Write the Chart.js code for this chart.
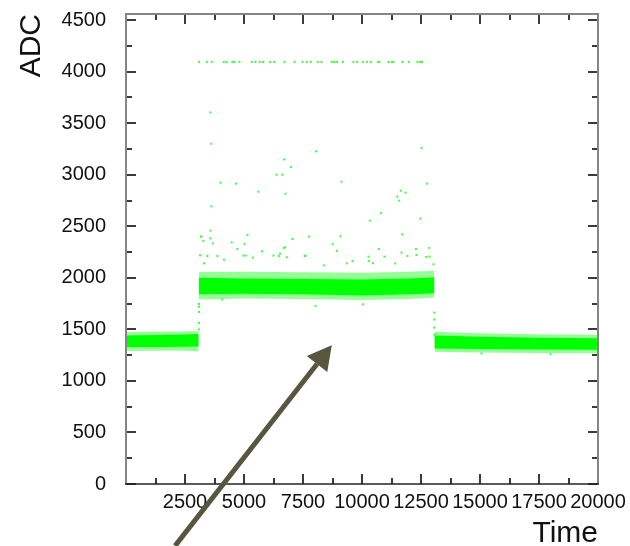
<!DOCTYPE html>
<html>
<head>
<meta charset="utf-8">
<script src="https://cdn.jsdelivr.net/npm/chart.js@4.4.1/dist/chart.umd.min.js"></script>
<style>
  html, body { margin: 0; padding: 0; background: #fff; }
  canvas { display: block; }
</style>
</head>
<body>
<canvas id="chart" width="630" height="546"></canvas>
<script>
'use strict';

// ADC band edges, three time segments
const seg1Time = [0, 750, 1500, 2250, 3080];
const seg1CoreLo = [1328, 1330, 1330, 1332, 1335];
const seg1CoreHi = [1440, 1442, 1445, 1448, 1455];
const seg1EdgeLo = [1290, 1292, 1294, 1295, 1285];
const seg1EdgeHi = [1472, 1476, 1480, 1480, 1485];

const seg2Time = [3080, 5000, 7500, 10000, 12000, 13070];
const seg2CoreLo = [1840, 1845, 1840, 1830, 1840, 1850];
const seg2CoreHi = [2000, 1995, 1990, 1985, 1995, 2005];
const seg2EdgeLo = [1790, 1800, 1795, 1785, 1795, 1810];
const seg2EdgeHi = [2060, 2060, 2055, 2050, 2060, 2070];

const seg3Time = [13070, 15000, 17500, 20000];
const seg3CoreLo = [1315, 1310, 1305, 1302];
const seg3CoreHi = [1440, 1428, 1420, 1415];
const seg3EdgeLo = [1282, 1275, 1270, 1268];
const seg3EdgeHi = [1476, 1462, 1452, 1448];

// overflow row at the 12 bit limit
const SATURATION = 4095;
const satTime = [3095, 3420, 3632, 4141, 4268, 4508, 4593, 4805, 5329, 5484, 5668, 5809,
    6106, 6276, 6713, 7137, 7476, 7661, 7830, 8128, 8282, 8720, 8819, 8946, 9187, 9638,
    9794, 10049, 10218, 10373, 10670, 10741, 11122, 11263, 11334, 11716, 11985, 12350, 12463, 12540];

// isolated hits away from the bands
const outlierTime = [3575, 3618, 8056, 6699, 6996, 6374, 6614, 3999, 4664, 5611, 6755, 3618,
    3575, 3194, 3575, 5145, 4480, 7053, 7759, 5017, 4720, 5766, 6741, 3137, 3448, 3872,
    4155, 5074, 6473, 6812, 7575, 3306, 12523, 9130, 12762, 11646, 11843, 11490, 11575,
    10812, 10332, 12466, 9088, 11702, 8763, 10713, 8933, 12282, 12847, 10953, 10275,
    11674, 11927, 12310, 12861, 7604, 9357, 9596, 10287, 10466, 3180, 3278, 3674, 6685,
    4975, 5372, 6247, 6530, 8381, 11405, 12720, 13030, 3095, 8028, 10049, 4085,
    3090, 3090, 3090, 3085, 13060, 13060, 13060, 13065, 15066, 17990];
const outlierAdc = [3605, 3301, 3227, 3149, 3075, 3001, 3001, 2923, 2914, 2836, 2817, 2694,
    2458, 2400, 2384, 2416, 2345, 2377, 2400, 2326, 2280, 2258, 2297, 2219, 2212, 2212,
    2177, 2216, 2212, 2200, 2212, 2141, 3259, 2933, 2914, 2846, 2826, 2788, 2749,
    2629, 2555, 2575, 2403, 2422, 2326, 2280, 2261, 2280, 2290, 2206, 2206,
    2245, 2212, 2222, 2206, 2216, 2141, 2164, 2164, 2142, 2400, 2358, 2335, 2290,
    2216, 2197, 2216, 2235, 2122, 2139, 2203, 2132, 1747, 1728, 1744, 1790,
    1563, 1669, 1720, 1500, 1663, 1596, 1518, 1450, 1266, 1260];

const xTicks = [0, 2500, 5000, 7500, 10000, 12500, 15000, 17500, 20000];
const yTicks = [0, 500, 1000, 1500, 2000, 2500, 3000, 3500, 4000, 4500];
const xMax = 20000;
const yMax = 4560;

// arrow drawn over the plot, ends given in axis units
const arrowFrom = { x: 2080, y: -600 };
const arrowTo = { x: 8720, y: 1347 };

const FONT = '"Liberation Sans", Arial, Helvetica, sans-serif';
const GREEN = '#00ff00';
const FRINGE = 'rgba(0, 255, 0, 0.42)';
const DOT = '#3cff3c';

const datasets = [];

function toPoints(xs, ys) {
    return xs.map((x, i) => ({ x: x, y: Array.isArray(ys) ? ys[i] : ys }));
}

function addBand(xs, lo, hi, color) {
    datasets.push({
        data: toPoints(xs, lo),
        showLine: true, pointRadius: 0, borderWidth: 0, fill: false
    });
    datasets.push({
        data: toPoints(xs, hi),
        showLine: true, pointRadius: 0, borderWidth: 0,
        fill: { target: datasets.length - 1 },
        backgroundColor: color
    });
}

addBand(seg1Time, seg1EdgeLo, seg1EdgeHi, FRINGE);
addBand(seg2Time, seg2EdgeLo, seg2EdgeHi, FRINGE);
addBand(seg3Time, seg3EdgeLo, seg3EdgeHi, FRINGE);
addBand(seg1Time, seg1CoreLo, seg1CoreHi, GREEN);
addBand(seg2Time, seg2CoreLo, seg2CoreHi, GREEN);
addBand(seg3Time, seg3CoreLo, seg3CoreHi, GREEN);

datasets.push({
    data: toPoints(outlierTime, outlierAdc),
    pointStyle: 'rect', pointRadius: 1.4, borderWidth: 0,
    backgroundColor: DOT
});
datasets.push({
    data: toPoints(satTime, SATURATION),
    pointStyle: 'rect', pointRadius: 1.4, borderWidth: 0,
    backgroundColor: DOT
});

// ROOT style frame, ticks point into the plot on all four sides
const framePlugin = {
    id: 'frame',
    afterDraw(chart) {
        const ctx = chart.ctx;
        const a = chart.chartArea;
        const xs = chart.scales.x;
        const ys = chart.scales.y;
        const xStep = xTicks[1] - xTicks[0];
        const yStep = yTicks[1] - yTicks[0];
        ctx.save();

        ctx.strokeStyle = '#3a3a3a';
        ctx.lineWidth = 2;
        ctx.beginPath();
        for (let v = 0; v <= xMax; v += xStep / 2) {
            const px = Math.round(xs.getPixelForValue(v));
            const len = v % xStep === 0 ? 10 : 6;
            ctx.moveTo(px, a.bottom); ctx.lineTo(px, a.bottom - len);
            ctx.moveTo(px, a.top); ctx.lineTo(px, a.top + len);
        }
        for (let v = 0; v <= yMax; v += yStep / 2) {
            const py = Math.round(ys.getPixelForValue(v));
            const len = v % yStep === 0 ? 10 : 6;
            ctx.moveTo(a.left, py); ctx.lineTo(a.left + len, py);
            ctx.moveTo(a.right, py); ctx.lineTo(a.right - len, py);
        }
        ctx.stroke();

        ctx.strokeStyle = '#858585';
        ctx.lineWidth = 2;
        ctx.beginPath();
        ctx.moveTo(a.left, a.bottom); ctx.lineTo(a.left, a.top);
        ctx.lineTo(a.right, a.top); ctx.lineTo(a.right, a.bottom);
        ctx.stroke();
        ctx.strokeStyle = '#222';
        ctx.lineWidth = 1.5;
        ctx.beginPath();
        ctx.moveTo(a.left - 1, a.bottom); ctx.lineTo(a.right + 1, a.bottom);
        ctx.stroke();

        // arrow
        const x0 = xs.getPixelForValue(arrowFrom.x), y0 = ys.getPixelForValue(arrowFrom.y);
        const x1 = xs.getPixelForValue(arrowTo.x), y1 = ys.getPixelForValue(arrowTo.y);
        const ang = Math.atan2(y1 - y0, x1 - x0);
        const headLen = 24, headHalf = 13;
        const bx = x1 - headLen * Math.cos(ang), by = y1 - headLen * Math.sin(ang);
        ctx.strokeStyle = '#57563f';
        ctx.fillStyle = '#57563f';
        ctx.lineWidth = 5;
        ctx.beginPath();
        ctx.moveTo(x0, y0); ctx.lineTo(bx, by);
        ctx.stroke();
        ctx.beginPath();
        ctx.moveTo(x1, y1);
        ctx.lineTo(bx + headHalf * Math.sin(ang), by - headHalf * Math.cos(ang));
        ctx.lineTo(bx - headHalf * Math.sin(ang), by + headHalf * Math.cos(ang));
        ctx.closePath();
        ctx.fill();

        ctx.restore();
    }
};

const bgPlugin = {
    id: 'bg',
    beforeDraw(chart) {
        const ctx = chart.ctx;
        ctx.save();
        ctx.fillStyle = '#fff';
        ctx.fillRect(0, 0, chart.width, chart.height);
        ctx.restore();
    }
};

new Chart(document.getElementById('chart'), {
    type: 'scatter',
    data: { datasets: datasets },
    plugins: [bgPlugin, framePlugin],
    options: {
        responsive: false,
        devicePixelRatio: 1,
        animation: false,
        events: [],
        layout: { padding: { left: 0, top: 14, right: 32, bottom: 0 } },
        plugins: { legend: { display: false }, tooltip: { enabled: false } },
        elements: { line: { tension: 0 } },
        scales: {
            x: {
                type: 'linear',
                min: 0,
                max: xMax,
                grid: { display: false, drawTicks: false },
                border: { display: false },
                afterBuildTicks: s => { s.ticks = xTicks.map(v => ({ value: v })); },
                ticks: {
                    autoSkip: false,
                    maxRotation: 0,
                    padding: 6,
                    color: '#111',
                    font: { family: FONT, size: 20 },
                    callback: v => (v === 0 ? '' : String(v))
                },
                title: {
                    display: true,
                    text: 'Time',
                    align: 'end',
                    color: '#111',
                    font: { family: FONT, size: 30 },
                    padding: { top: 0, bottom: -6 }
                },
                afterFit: s => {
                    s.height = 62;
                    s.paddingLeft = 0;
                    s.paddingRight = 0;
                }
            },
            y: {
                type: 'linear',
                min: 0,
                max: yMax,
                grid: { display: false, drawTicks: false },
                border: { display: false },
                afterBuildTicks: s => { s.ticks = yTicks.map(v => ({ value: v })); },
                ticks: {
                    padding: 20,
                    color: '#111',
                    font: { family: FONT, size: 20 },
                    callback: v => String(v)
                },
                title: {
                    display: true,
                    text: 'ADC',
                    align: 'end',
                    color: '#111',
                    font: { family: FONT, size: 30 },
                    padding: { top: 14, bottom: 0 }
                },
                afterFit: s => {
                    s.width = 126;
                    s.paddingTop = 0;
                    s.paddingBottom = 0;
                }
            }
        }
    }
});
</script>
</body>
</html>
